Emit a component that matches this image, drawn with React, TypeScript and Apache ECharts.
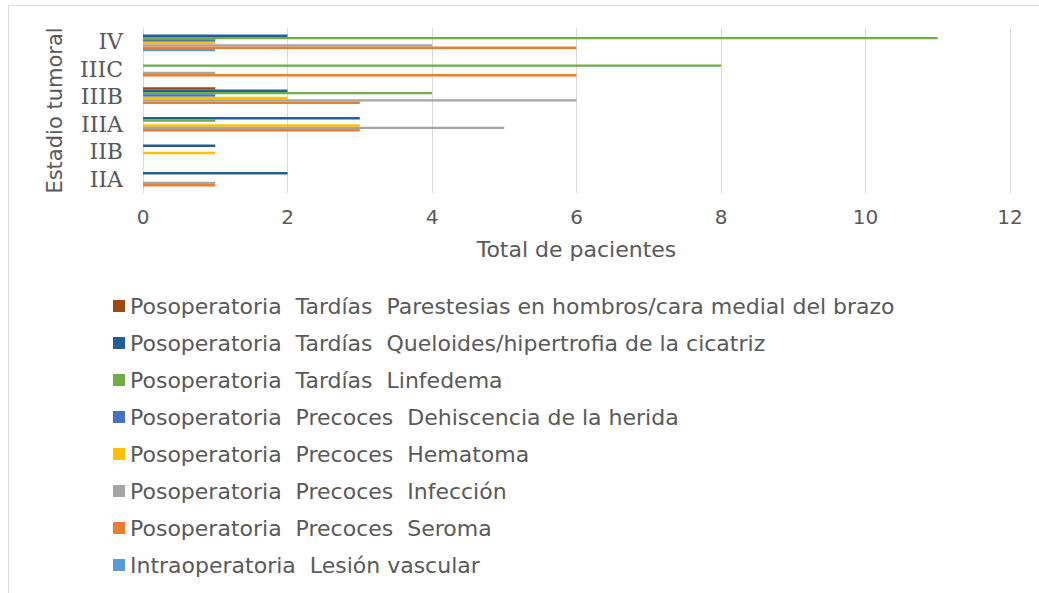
import React, { useEffect, useRef } from "react";
import * as echarts from "echarts";

const categories = ["IIA", "IIB", "IIIA", "IIIB", "IIIC", "IV"];
const xTicks = [0, 2, 4, 6, 8, 10, 12];

const seriesNames = [
  "Posoperatoria  Tardías  Parestesias en hombros/cara medial del brazo",
  "Posoperatoria  Tardías  Queloides/hipertrofia de la cicatriz",
  "Posoperatoria  Tardías  Linfedema",
  "Posoperatoria  Precoces  Dehiscencia de la herida",
  "Posoperatoria  Precoces  Hematoma",
  "Posoperatoria  Precoces  Infección",
  "Posoperatoria  Precoces  Seroma",
  "Intraoperatoria  Lesión vascular",
];

const parestesias = [0, 0, 0, 1, 0, 0];
const queloides = [2, 1, 3, 2, 0, 2];
const linfedema = [0, 0, 1, 4, 8, 11];
const dehiscencia = [0, 0, 0, 1, 0, 1];
const hematoma = [0, 1, 3, 2, 0, 1];
const infeccion = [1, 0, 5, 6, 1, 4];
const seroma = [1, 0, 3, 3, 6, 6];
const lesionVascular = [0, 0, 0, 0, 0, 1];

const seriesValues = [parestesias, queloides, linfedema, dehiscencia, hematoma, infeccion, seroma, lesionVascular];
const seriesColors = ["#9E480E", "#255E91", "#70AD47", "#4472C4", "#FFC000", "#A5A5A5", "#ED7D31", "#5B9BD5"];

const FONT = "'DejaVu Sans', Verdana, sans-serif";

export default function App() {
  const ref = useRef<HTMLDivElement>(null);
  useEffect(() => {
    document.body.style.margin = "0";
    if (!ref.current) return;
    const chart = echarts.init(ref.current, null, { renderer: "svg" });
    chart.setOption({
      animation: false,
      backgroundColor: "#ffffff",
      textStyle: { fontFamily: FONT },
      graphic: [
        {
          type: "rect",
          shape: { x: 8.5, y: 5.5, width: 1040, height: 600 },
          style: { fill: "none", stroke: "#d9d9d9", lineWidth: 1 },
          silent: true,
        },
      ],
      grid: { left: 143, right: 29, top: 28, bottom: 400, containLabel: false },
      xAxis: {
        type: "value",
        min: 0,
        max: 12,
        interval: 2,
        name: "Total de pacientes",
        nameLocation: "middle",
        nameGap: 45,
        nameTextStyle: { fontSize: 22, color: "#595959", fontFamily: FONT },
        axisLine: { show: false },
        axisTick: { show: false },
        axisLabel: {
          fontSize: 20,
          color: "#595959",
          margin: 14,
          fontFamily: FONT,
          formatter: (v: number) => (xTicks.includes(v) ? String(v) : ""),
        },
        splitLine: { show: true, lineStyle: { color: "#d9d9d9", width: 1 } },
      },
      yAxis: {
        type: "category",
        data: categories,
        name: "Estadio tumoral",
        nameLocation: "middle",
        nameGap: 78,
        nameRotate: 90,
        nameTextStyle: { fontSize: 21, color: "#595959", fontFamily: FONT },
        axisLine: { show: true, lineStyle: { color: "#d9d9d9" } },
        axisTick: { show: false },
        axisLabel: {
          fontSize: 22,
          color: "#595959",
          margin: 20,
          interval: 0,
          hideOverlap: false,
          fontFamily: "'DejaVu Serif', serif",
        },
        splitLine: { show: false },
      },
      legend: {
        orient: "vertical",
        left: 108,
        top: 290,
        itemWidth: 12,
        itemHeight: 12,
        itemGap: 15,
        icon: "rect",
        data: seriesNames,
        textStyle: { fontSize: 22, color: "#595959", fontFamily: FONT },
      },
      series: seriesNames.map((name, i) => ({
        name,
        type: "bar",
        data: seriesValues[i],
        barWidth: 2.4,
        barGap: "0%",
        itemStyle: { color: seriesColors[i] },
      })),
    });
    return () => chart.dispose();
  }, []);
  return <div ref={ref} style={{ width: 1039, height: 593 }} />;
}
